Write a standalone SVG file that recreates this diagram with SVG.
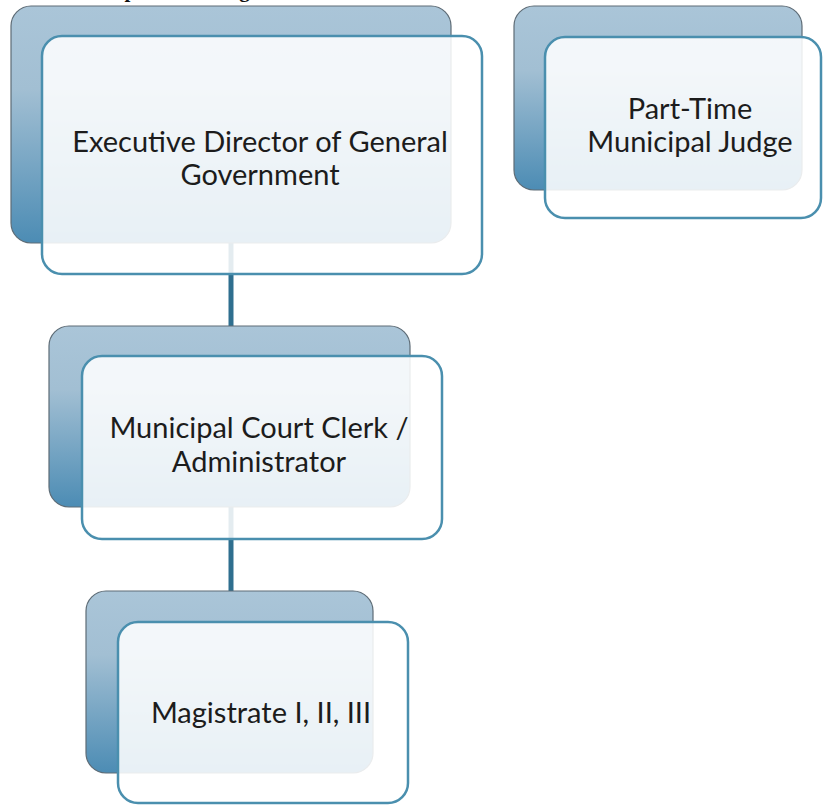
<svg xmlns="http://www.w3.org/2000/svg" width="823" height="805" viewBox="0 0 823 805">
  <defs>
    <linearGradient id="backFill" x1="0" y1="0" x2="0" y2="1">
      <stop offset="0" stop-color="#aac5d8"/>
      <stop offset="0.35" stop-color="#a2bfd3"/>
      <stop offset="1" stop-color="#4c8cb4"/>
    </linearGradient>
    <style>
      .back { fill: url(#backFill); stroke: #5e6c76; stroke-width: 1.2; }
      .front { fill: #ffffff; fill-opacity: 0.87; stroke: #4a8fae; stroke-width: 2.5; }
      .label { font-family: Lato, "Open Sans", "Liberation Sans", sans-serif; font-size: 29px; fill: #1c1c1c; text-anchor: middle; }
      .link { stroke: #2f6f8f; stroke-width: 5; fill: none; }
      .title { font-family: "Liberation Serif", serif; font-weight: bold; font-size: 21px; fill: #111111; }
    </style>
  </defs>

  <rect width="823" height="805" fill="#ffffff"/>

  <!-- heading, mostly above the top edge -->
  <text class="title" x="100" y="-3">Department Organization Chart</text>

  <!-- reporting lines -->
  <g id="connectors">
    <line class="link" x1="231" y1="243" x2="231" y2="327"/>
    <line class="link" x1="231" y1="507" x2="231" y2="591"/>
  </g>

  <g id="node-executive-director">
    <rect class="back" x="11" y="6" width="440" height="237" rx="20"/>
    <rect class="front" x="42" y="36" width="440" height="238" rx="20"/>
    <text class="label" x="260" y="152">Executive Director of General</text>
    <text class="label" x="260" y="185">Government</text>
  </g>

  <g id="node-part-time-judge">
    <rect class="back" x="514" y="6" width="288" height="184" rx="20"/>
    <rect class="front" x="545" y="37" width="276" height="181" rx="20"/>
    <text class="label" x="690" y="119">Part-Time</text>
    <text class="label" x="690" y="152">Municipal Judge</text>
  </g>

  <g id="node-court-clerk">
    <rect class="back" x="49" y="326" width="361" height="181" rx="20"/>
    <rect class="front" x="82" y="356" width="360" height="183" rx="20"/>
    <text class="label" x="259" y="438">Municipal Court Clerk /</text>
    <text class="label" x="259" y="472">Administrator</text>
  </g>

  <g id="node-magistrate">
    <rect class="back" x="86" y="591" width="287" height="182" rx="20"/>
    <rect class="front" x="118" y="622" width="290" height="181" rx="20"/>
    <text class="label" x="261" y="723">Magistrate I, II, III</text>
  </g>
</svg>
